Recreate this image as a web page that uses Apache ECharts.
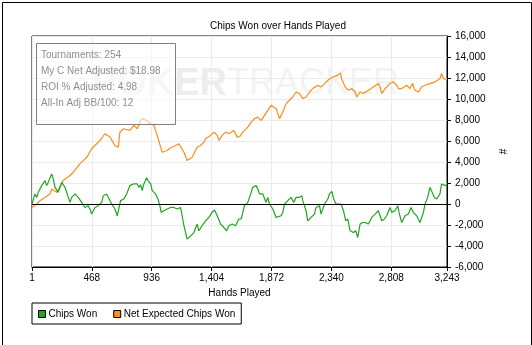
<!DOCTYPE html>
<html>
<head>
<meta charset="utf-8">
<script src="https://cdn.jsdelivr.net/npm/echarts@6/dist/echarts.min.js"></script>
<style>
html,body{margin:0;padding:0;background:#fff;}
#chart{width:532px;height:345px;}
</style>
</head>
<body>
<div id="chart"></div>
<script>
const titleText = 'Chips Won over Hands Played';
const xName = 'Hands Played';
const yName = '#';
const xTicks = [1, 468, 936, 1404, 1872, 2340, 2808, 3243];
const yMin = -6000, yMax = 16000, yStep = 2000;
const seriesNames = ['Chips Won', 'Net Expected Chips Won'];
const infoLines = ['Tournaments: 254', 'My C Net Adjusted: $18.98', 'ROI % Adjusted: 4.98', 'All-In Adj BB/100: 12'];

const chipsHands = [1,24,38,50,77,102,116,128,155,167,181,194,206,220,233,245,259,272,284,298,311,323,337,362,389,401,415,440,454,467,493,519,545,558,584,604,623,649,667,693,719,740,766,792,823,836,850,862,875,896,907,928,940,953,967,985,1000,1010,1031,1057,1084,1109,1135,1162,1174,1188,1213,1240,1266,1291,1305,1330,1357,1383,1408,1427,1448,1474,1500,1521,1539,1565,1591,1617,1635,1648,1661,1687,1700,1713,1726,1752,1765,1778,1804,1817,1830,1843,1856,1869,1882,1895,1908,1921,1947,1960,1974,1999,2013,2025,2046,2064,2091,2109,2116,2142,2155,2181,2208,2220,2247,2259,2286,2312,2325,2343,2358,2376,2390,2415,2434,2452,2468,2486,2512,2530,2546,2564,2582,2603,2629,2655,2681,2707,2720,2733,2754,2772,2798,2811,2837,2858,2868,2889,2915,2941,2962,2980,3006,3032,3059,3071,3092,3110,3123,3144,3162,3188,3201,3227,3243];
const chipsWon = [0,960,630,1110,1750,2230,1750,2070,2870,2390,1590,1750,1110,1590,2070,2230,1590,1110,960,150,630,480,960,630,150,0,-330,-160,-480,-960,-330,-160,150,790,960,480,0,-480,-1120,320,480,960,1750,1910,1910,1590,1850,1270,1910,2490,2230,1910,1270,1430,960,480,-160,-800,-640,-480,-330,-330,-480,-330,-1120,-2070,-3350,-3030,-2720,-1910,-2550,-2070,-1600,-1280,-800,-570,-1120,-1910,-2240,-2550,-2070,-1910,-2070,-1430,-1430,-800,-160,150,0,1110,1590,1750,1430,960,960,790,150,630,0,-160,-480,-640,-1280,-1430,-1120,-800,0,320,150,630,150,630,630,790,320,-640,-1600,-1280,-960,-330,-160,-960,0,480,960,1200,480,0,150,0,-640,-1600,-1430,-2550,-2720,-2550,-3190,-1910,-1760,-1760,-1910,-1280,-960,-640,-1120,-1600,-1430,-1120,-330,-800,-640,-160,-800,-1760,-1120,-960,-330,-800,-1120,-1760,-800,0,630,1590,1750,630,480,960,1910,1750,1910];

const expHands = [1,38,63,102,142,155,194,233,245,298,323,376,428,467,532,571,610,649,675,688,714,766,797,823,850,868,901,928,953,979,1006,1018,1057,1084,1123,1148,1162,1188,1213,1227,1252,1291,1318,1344,1357,1396,1422,1448,1461,1487,1513,1539,1578,1604,1625,1648,1687,1713,1739,1765,1791,1817,1843,1869,1882,1908,1935,1960,1986,2013,2038,2064,2091,2116,2142,2169,2194,2233,2259,2286,2312,2351,2390,2411,2421,2447,2473,2499,2525,2538,2551,2564,2590,2629,2668,2707,2720,2733,2759,2798,2825,2850,2863,2889,2928,2954,2973,2993,3020,3045,3071,3110,3149,3188,3201,3215,3243];
const netExpected = [-330,0,320,630,960,1430,1110,1910,2230,2710,3020,3850,4430,5260,6050,6690,6370,5570,5410,6850,7170,7010,7490,7170,7960,8150,7900,7650,7490,6530,5410,4930,5100,5350,5570,5740,5890,4930,4140,3980,4450,5410,5570,5890,6210,6530,6850,6530,6050,6530,6850,6690,7010,6370,6430,6850,7320,7800,8130,8280,7960,8440,8920,9400,9560,9080,8130,8760,9560,9880,10190,10670,10520,10040,10190,10670,10990,11310,11150,11470,11790,12100,12270,12490,11880,11150,10830,10990,10670,10190,10040,10670,10520,10830,11150,11470,11150,10520,10990,11470,11630,11310,10990,10990,11310,10990,11470,10830,10670,11150,11310,11470,11630,11950,12430,11950,11850];

const colors = ['#1fa51f', '#ff8c1a'];
const fmt = v => Math.round(v).toLocaleString('en-US');
const FONT = '"Liberation Sans", Arial, sans-serif';
const FS = 10;

const chart = echarts.init(document.getElementById('chart'), null, {renderer: 'canvas'});
chart.setOption({
  animation: false,
  backgroundColor: '#fff',
  title: {
    text: titleText, left: 205, top: 16,
    textStyle: {fontFamily: FONT, fontSize: FS, fontWeight: 'normal', color: '#000'}
  },
  grid: {left: 32, top: 36, right: 85, bottom: 78, show: true, borderColor: '#000', borderWidth: 1, backgroundColor: 'transparent', containLabel: false},
  xAxis: {
    type: 'value', min: xTicks[0], max: xTicks[xTicks.length - 1],
    name: xName, nameLocation: 'middle', nameGap: 21,
    nameTextStyle: {fontFamily: FONT, fontSize: FS, color: '#000'},
    axisLine: {show: true, onZero: false, lineStyle: {color: '#000', width: 1}},
    axisTick: {show: true, length: 4, customValues: xTicks, lineStyle: {color: '#000'}},
    axisLabel: {customValues: xTicks, formatter: fmt, margin: 6, fontFamily: FONT, fontSize: FS, color: '#000'},
    splitLine: {show: true, lineStyle: {color: '#ebebeb', width: 1}}
  },
  yAxis: {
    type: 'value', position: 'right', min: yMin, max: yMax, interval: yStep,
    name: yName, nameLocation: 'middle', nameGap: 46, nameRotate: -90,
    nameTextStyle: {fontFamily: FONT, fontSize: FS, color: '#000'},
    axisLine: {show: true, lineStyle: {color: '#000', width: 1}},
    axisTick: {show: true, length: 4, lineStyle: {color: '#000'}},
    axisLabel: {formatter: fmt, margin: 8, fontFamily: FONT, fontSize: FS, color: '#000'},
    splitLine: {show: true, lineStyle: {color: '#ebebeb', width: 1}}
  },
  legend: {
    left: 32, top: 303, orient: 'horizontal',
    padding: [6, 6, 5, 6], itemGap: 16, itemWidth: 7, itemHeight: 7,
    borderColor: '#000', borderWidth: 1, icon: 'rect',
    itemStyle: {borderColor: '#000', borderWidth: 1},
    textStyle: {fontFamily: FONT, fontSize: FS, color: '#000', padding: [0, 0, 0, -2]},
    data: seriesNames
  },
  graphic: [
    {type: 'text', x: 227, y: 66, z: -1, silent: true,
     style: {text: 'POKER', font: 'bold 38px ' + FONT, fill: '#ededed', align: 'right', verticalAlign: 'top'}},
    {type: 'text', x: 227, y: 66, z: -1, silent: true,
     style: {text: 'TRACKER', font: '36px ' + FONT, fill: '#f3f3f3', verticalAlign: 'top'}},
    {type: 'rect', left: 36, top: 43, z: 5, silent: true,
     shape: {width: 139, height: 81},
     style: {fill: 'rgba(255,255,255,0.55)', stroke: '#808080', lineWidth: 1}},
    {type: 'text', left: 41, top: 47, z: 6, silent: true,
     style: {text: infoLines.join('\n'), font: '10px ' + FONT, fill: '#8a9099', lineHeight: 16}},
    {type: 'rect', left: 0, top: 0, z: 10, silent: true,
     shape: {width: 529, height: 343},
     style: {fill: 'none', stroke: '#000', lineWidth: 1}}
  ],
  series: [
    {
      name: seriesNames[0], type: 'line', showSymbol: false, symbol: 'none',
      data: chipsHands.map((h, i) => [h, chipsWon[i]]),
      lineStyle: {color: colors[0], width: 1.2}, itemStyle: {color: colors[0]},
      z: 3,
      markLine: {silent: true, symbol: 'none', label: {show: false},
        lineStyle: {color: '#000', width: 1, type: 'solid'}, data: [{yAxis: 0}]}
    },
    {
      name: seriesNames[1], type: 'line', showSymbol: false, symbol: 'none',
      data: expHands.map((h, i) => [h, netExpected[i]]),
      lineStyle: {color: colors[1], width: 1.2}, itemStyle: {color: colors[1]},
      z: 2
    }
  ]
});
</script>
</body>
</html>
